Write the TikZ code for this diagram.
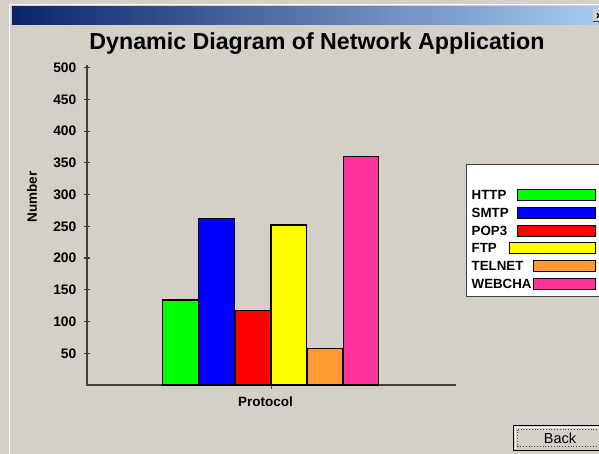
\documentclass[tikz,border=0pt]{standalone}
\usepackage{fontspec}
\setmainfont{Liberation Sans}
\usetikzlibrary{positioning}
\definecolor{panelgray}{HTML}{D4D0C8}
\definecolor{axisgray}{HTML}{404040}
\definecolor{captionleft}{HTML}{0A246A}
\definecolor{captionright}{HTML}{A6CAF0}
\definecolor{httpgreen}{HTML}{00FF00}
\definecolor{smtpblue}{HTML}{0000FF}
\definecolor{popred}{HTML}{FF0000}
\definecolor{ftpyellow}{HTML}{FFFF00}
\definecolor{telnetorange}{HTML}{FF9933}
\definecolor{webchatpink}{HTML}{FF3399}

\begin{document}
\begin{tikzpicture}[x=1pt, y=-1pt,
    ticklabel/.style={font=\fontsize{13.8}{14}\selectfont\bfseries, anchor=east, inner sep=0pt},
    axislabel/.style={font=\fontsize{13.5}{14}\selectfont\bfseries, inner sep=0pt},
    legendlabel/.style={font=\fontsize{13.3}{14}\selectfont\bfseries, anchor=west, inner sep=0pt},
    barbox/.style={draw=black, line width=1.3pt}]
    % Window
    \useasboundingbox[fill=panelgray] (0,0) rectangle (599,454);
    \draw[white, line width=1pt] (9.5,454) -- (9.5,4.5) -- (599,4.5);
    \shade[left color=captionleft, right color=captionright] (12,7) rectangle (599,25);
    \fill[panelgray] (593,9) rectangle (600,22);
    \draw[axisgray, line width=1pt] (593,22) -- (600,22);
    \draw[black, line width=1pt] (597,13) -- (600,18) (597,18) -- (600,13);

    % Title
    \node[font=\fontsize{23.2}{25}\selectfont\bfseries] (title) at (317,44) {Dynamic Diagram of Network Application};

    % Axes
    \draw[axisgray, line width=1.6pt] (87,65) -- (87,385) -- (456,385);

    % Y-axis labels
    \foreach \v in {50,100,...,500} {
        \draw[axisgray, line width=1.2pt] (84,{385-\v*0.6346}) -- (90,{385-\v*0.6346});
        \node[ticklabel] (tick\v) at (76.5,{385-\v*0.6346}) {\v};
    }
    \node[axislabel, rotate=90] (ylabel) at (32,197) {Number};

    % X-axis label
    \draw[axisgray, line width=1pt] (271,385) -- (271,389);
    \node[axislabel] (xlabel) at (265.5,402) {Protocol};

    % Bars
    \foreach \i/\val/\col in {0/134/httpgreen, 1/262/smtpblue, 2/117/popred, 3/252/ftpyellow, 4/58/telnetorange, 5/360/webchatpink} {
        \draw[barbox, fill=\col] ({162.7+\i*36.1},385) rectangle ({198.3+\i*36.1},{385-\val*0.6346});
    }

    % Legend
    \draw[fill=white, draw=axisgray, line width=1pt] (466,164.5) rectangle (606,296.5);
    \foreach \n/\name/\col/\sx in {0/HTTP/httpgreen/517, 1/SMTP/smtpblue/517, 2/POP3/popred/517, 3/FTP/ftpyellow/509, 4/TELNET/telnetorange/533, 5/WEBCHA/webchatpink/533} {
        \node[legendlabel] (lg\n) at (471.5,{195+\n*17.8}) {\name};
        \draw[fill=\col, draw=black, line width=1pt] (\sx,{189.5+\n*17.8}) rectangle (595,{200.5+\n*17.8});
    }

    % Back button
    \draw[fill=panelgray, draw=black, line width=1.5pt] (513.5,425.5) rectangle (606,450.5);
    \draw[white, line width=1pt] (515.5,448.5) -- (515.5,427.5) -- (606,427.5);
    \draw[axisgray, dotted, line width=0.8pt] (517.5,429.5) rectangle (606,446.5);
    \node[font=\fontsize{14.5}{15}\selectfont, inner sep=0pt] (back) at (560,438) {Back};
\end{tikzpicture}
\end{document}
